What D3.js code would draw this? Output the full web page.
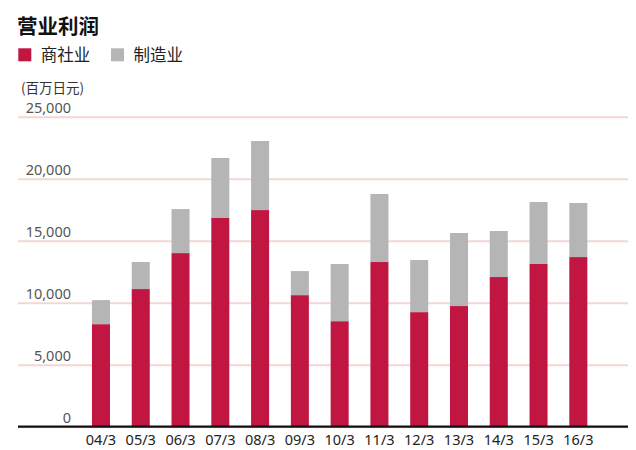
<!DOCTYPE html>
<html><head><meta charset="utf-8">
<script src="https://cdn.jsdelivr.net/npm/d3@7/dist/d3.min.js"></script>
<style>
html,body{margin:0;padding:0;background:#fff;}
svg{display:block;font-family:"Noto Sans CJK SC","Noto Sans",sans-serif;}
</style></head>
<body><svg id="c" width="636" height="450"></svg>
<script>
const categories = ["04/3","05/3","06/3","07/3","08/3","09/3","10/3","11/3","12/3","13/3","14/3","15/3","16/3"];
const trading = [8270, 11100, 14000, 16830, 17470, 10610, 8510, 13280, 9240, 9730, 12070, 13120, 13680];
const manufacturing = [1940, 2180, 3550, 4840, 5570, 1940, 4610, 5490, 4200, 5890, 3710, 5000, 4360];
const yTicks = [0, 5000, 10000, 15000, 20000, 25000];
const seriesNames = ["商社业", "制造业"];
const title = "营业利润";
const unit = "(百万日元)";

const colors = ["#C11642", "#B4B5B4"];
const svg = d3.select("#c");

const x = d3.scaleBand().domain(categories).range([70.2, 609.1]).padding(0.547);
const y = d3.scaleLinear().domain([0, 25000]).range([426.7, 116.7]);

// title
svg.append("text").attr("x", 17).attr("y", 34).attr("font-size", 20.5).attr("font-weight", "bold")
  .attr("fill", "#111").text(title);

// legend
const leg = svg.append("g");
const legX = [18.3, 111];
seriesNames.forEach((n, i) => {
  leg.append("rect").attr("x", legX[i]).attr("y", 48.3).attr("width", 13).attr("height", 13).attr("fill", colors[i]);
  leg.append("text").attr("x", legX[i] + 22.5).attr("y", 60.5).attr("font-size", 16.5).attr("fill", "#222").text(n);
});

// unit
svg.append("text").attr("x", 21).attr("y", 93).attr("font-size", 13.5).attr("fill", "#333").text(unit);

// y axis grid
const yAxis = d3.axisLeft(y).tickValues(yTicks).tickSize(-610).tickFormat(d3.format(","));
const gy = svg.append("g").attr("transform", "translate(18,0)").call(yAxis);
gy.select(".domain").remove();
gy.selectAll(".tick line").attr("stroke", "#F3D7D3").attr("stroke-width", 2);
gy.selectAll(".tick text").attr("x", 53).attr("dy", -4.5).attr("text-anchor", "end")
  .attr("font-size", 14.5).attr("fill", "#555").attr("font-family", "'Noto Sans','Noto Sans CJK SC',sans-serif");

// stacked bars
const data = categories.map((c, i) => ({cat: c, trading: trading[i], manufacturing: manufacturing[i]}));
const stack = d3.stack().keys(["trading", "manufacturing"])(data);
svg.append("g").selectAll("g").data(stack).join("g").attr("fill", (d, i) => colors[i])
  .selectAll("rect").data(d => d).join("rect")
  .attr("x", d => x(d.data.cat)).attr("width", x.bandwidth())
  .attr("y", d => y(d[1])).attr("height", d => y(d[0]) - y(d[1]));

// x axis
const xAxis = d3.axisBottom(x).tickSize(0).tickPadding(8);
const gx = svg.append("g").attr("transform", `translate(0,${y(0)})`).call(xAxis);
gx.select(".domain").remove();
gx.selectAll(".tick text").attr("font-size", 14.5).attr("fill", "#222")
  .attr("font-family", "'Noto Sans','Noto Sans CJK SC',sans-serif");

// baseline
svg.append("line").attr("x1", 18).attr("x2", 628).attr("y1", y(0)).attr("y2", y(0))
  .attr("stroke", "#111").attr("stroke-width", 2.2);
</script></body></html>
